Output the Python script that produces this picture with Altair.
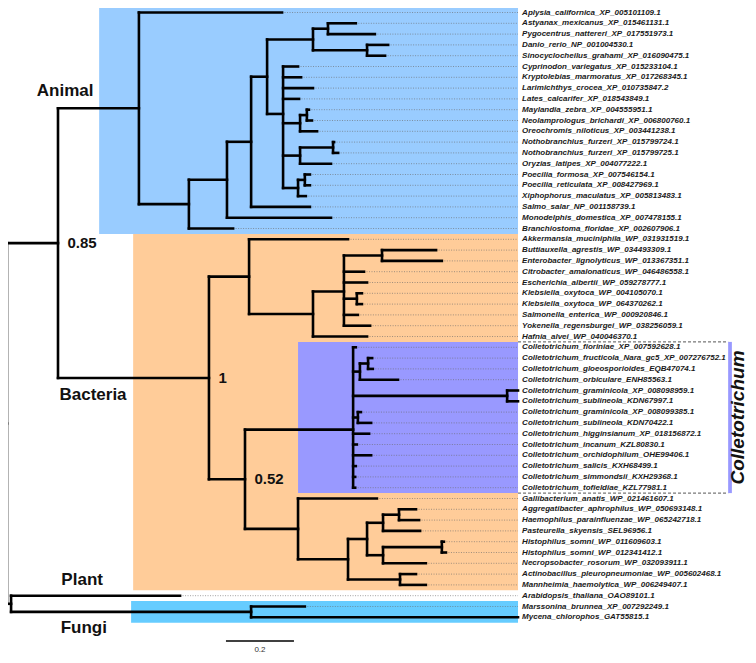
import altair as alt
import pandas as pd

# ---------------- data ----------------
leaf_names = [
    "Aplysia_californica_XP_005101109.1", "Astyanax_mexicanus_XP_015461131.1",
    "Pygocentrus_nattereri_XP_017551973.1", "Danio_rerio_NP_001004530.1",
    "Sinocyclocheilus_grahami_XP_016090475.1", "Cyprinodon_variegatus_XP_015233104.1",
    "Kryptolebias_marmoratus_XP_017268345.1", "Larimichthys_crocea_XP_010735847.2",
    "Lates_calcarifer_XP_018543849.1", "Maylandia_zebra_XP_004555951.1",
    "Neolamprologus_brichardi_XP_006800760.1", "Oreochromis_niloticus_XP_003441238.1",
    "Nothobranchius_furzeri_XP_015799724.1", "Nothobranchius_furzeri_XP_015799725.1",
    "Oryzias_latipes_XP_004077222.1", "Poecilia_formosa_XP_007546154.1",
    "Poecilia_reticulata_XP_008427969.1", "Xiphophorus_maculatus_XP_005813483.1",
    "Salmo_salar_NP_001158739.1", "Monodelphis_domestica_XP_007478155.1",
    "Branchiostoma_floridae_XP_002607906.1", "Akkermansia_muciniphila_WP_031931519.1",
    "Buttiauxella_agrestis_WP_034493309.1", "Enterobacter_lignolyticus_WP_013367351.1",
    "Citrobacter_amalonaticus_WP_046486558.1", "Escherichia_albertii_WP_059278777.1",
    "Klebsiella_oxytoca_WP_004105070.1", "Klebsiella_oxytoca_WP_064370262.1",
    "Salmonella_enterica_WP_000920846.1", "Yokenella_regensburgei_WP_038256059.1",
    "Hafnia_alvei_WP_040046370.1", "Colletotrichum_fioriniae_XP_007592628.1",
    "Colletotrichum_fructicola_Nara_gc5_XP_007276752.1", "Colletotrichum_gloeosporioides_EQB47074.1",
    "Colletotrichum_orbiculare_ENH85563.1", "Colletotrichum_graminicola_XP_008098959.1",
    "Colletotrichum_sublineola_KDN67997.1", "Colletotrichum_graminicola_XP_008099385.1",
    "Colletotrichum_sublineola_KDN70422.1", "Colletotrichum_higginsianum_XP_018156872.1",
    "Colletotrichum_incanum_KZL80830.1", "Colletotrichum_orchidophilum_OHE99406.1",
    "Colletotrichum_salicis_KXH68499.1", "Colletotrichum_simmondsii_KXH29368.1",
    "Colletotrichum_tofieldiae_KZL77981.1", "Gallibacterium_anatis_WP_021461607.1",
    "Aggregatibacter_aphrophilus_WP_050693148.1", "Haemophilus_parainfluenzae_WP_065242718.1",
    "Pasteurella_skyensis_SEL96956.1", "Histophilus_somni_WP_011609603.1",
    "Histophilus_somni_WP_012341412.1", "Necropsobacter_rosorum_WP_032093911.1",
    "Actinobacillus_pleuropneumoniae_WP_005602468.1", "Mannheimia_haemolytica_WP_006249407.1",
    "Arabidopsis_thaliana_OAO89101.1", "Marssonina_brunnea_XP_007292249.1",
    "Mycena_chlorophos_GAT55815.1",
]
leaf_parent = [
    "AN", "N5a", "N5a", "N5b", "N5b", "N6", "N6", "N6", "N6", "CI2", "CI2", "CI",
    "NO2", "NO2", "NO", "PO2", "PO2", "PO", "N3", "N2", "N1",
    "B1", "BE", "BE", "B1c", "B1c", "KL", "KL", "B1c", "B1c", "B1b",
    "COL", "C1a", "C1a", "C1", "CG", "CG", "C2", "C2", "COL", "COL", "COL", "COL", "COL", "COL",
    "PAS", "AH", "AH", "PA1", "HIS", "HIS", "PA2", "AM", "AM",
    "PF", "FUN", "FUN",
]
# distance from the root (substitutions per site)
leaf_depth = [
    0.809, 1.026, 1.082, 1.121, 1.112, 0.856, 0.865, 0.900, 0.859, 0.888, 0.897, 0.912,
    0.962, 0.974, 0.953, 0.891, 0.891, 0.879, 0.891, 0.953, 0.665,
    1.003, 1.262, 1.279, 1.050, 1.059, 1.044, 1.044, 1.032, 1.068, 1.059,
    1.026, 1.074, 1.076, 1.150, 1.503, 1.503, 1.041, 1.071, 1.065, 1.029, 1.071, 1.026, 1.024, 1.024,
    1.088, 1.203, 1.212, 1.215, 1.285, 1.291, 1.232, 1.203, 1.232,
    0.509, 0.876, 1.503,
]

node_names = ["ROOT", "AB", "PF", "AN", "N1", "N2", "N3", "N4", "N5", "N5a", "N5b", "N6",
              "CI", "CI2", "NO", "NO2", "PO", "PO2", "BAC", "B1", "B1b", "B1c", "BE", "KL",
              "B2", "COL", "C1", "C1a", "CG", "C2", "PAS", "P2", "P3", "PA1", "AH", "PA2",
              "HIS", "AM", "FUN"]
node_parent = ["", "ROOT", "ROOT", "AB", "AN", "N1", "N2", "N3", "N4", "N5", "N5", "N4",
               "N6", "CI", "N6", "NO", "N6", "PO", "AB", "BAC", "B1", "B1b", "B1c", "B1c",
               "BAC", "B2", "COL", "C1", "COL", "COL", "B2", "PAS", "P2", "P3", "PA1", "P3",
               "PA2", "P2", "PF"]
node_depth = [0.0, 0.150, 0.012, 0.388, 0.535, 0.647, 0.718, 0.765, 0.900, 0.944, 1.059, 0.812,
              0.862, 0.882, 0.862, 0.959, 0.856, 0.876, 0.594, 0.712, 0.900, 0.991, 1.103, 1.029,
              0.700, 1.018, 1.038, 1.062, 1.471, 1.032, 0.856, 1.003, 1.059, 1.106, 1.153, 1.106,
              1.279, 1.156, 0.718]
root_stem = 0.012

support_nodes = ["AB", "BAC", "B2"]
support_values = ["0.85", "1", "0.52"]

box_names = ["Animal", "Bacteria", "Colletotrichum", "Fungi"]
box_x_start = [0.271, 0.371, 0.856, 0.365]
box_row_start = [-0.5, 20.5, 30.5, 54.5]
box_row_end = [20.5, 53.5, 44.5, 56.5]
box_colors = ["#99CCFF", "#FFCC99", "#9999FF", "#66CCFF"]

group_labels = ["Animal", "Bacteria", "Plant", "Fungi"]
group_x = [0.171, 0.253, 0.221, 0.226]
group_row = [7.3, 35.4, 52.5, 57.0]

guide_end = 1.503
label_start = 1.515
bracket_end = 2.121
bracket_bar = 2.132
scale_bar_start = 0.644
scale_bar_len = 0.2
scale_bar_row = 58.2

# ---------------- layout ----------------
PX = 340.0
ROW = 10.8
TOP = 4.5
xs = alt.Scale(domain=[0, guide_end], range=[-1, -1 + guide_end * PX], nice=False, zero=False)
ys = alt.Scale(domain=[0, 56], range=[TOP, TOP + 56 * ROW], nice=False, zero=False)

parent = dict(zip(node_names, node_parent))
parent.update(zip(leaf_names, leaf_parent))
depth = dict(zip(node_names, node_depth))
depth.update(zip(leaf_names, leaf_depth))
children = {}
for n, p in parent.items():
    if p:
        children.setdefault(p, []).append(n)
ypos = {n: i for i, n in enumerate(leaf_names)}


def gety(n):
    if n not in ypos:
        ys_ = [gety(c) for c in children[n]]
        ypos[n] = sum(ys_) / len(ys_)
    return ypos[n]


gety("ROOT")

hrows = [{"x": depth[parent[n]], "x2": depth[n], "y": ypos[n]} for n in parent if parent[n]]
hrows.append({"x": -root_stem, "x2": 0.0, "y": ypos["ROOT"]})
vrows = []
for n, ch in children.items():
    cy = [ypos[c] for c in ch]
    vrows.append({"x": depth[n], "y": min(cy), "y2": max(cy)})
grows = [{"x": depth[l], "x2": guide_end, "y": ypos[l]} for l in leaf_names if depth[l] < guide_end - 0.005]

H = pd.DataFrame(hrows)
V = pd.DataFrame(vrows)
G = pd.DataFrame(grows)
L = pd.DataFrame({"name": leaf_names, "x": label_start, "y": list(range(len(leaf_names)))})
B = pd.DataFrame({"name": box_names, "x": box_x_start, "x2": guide_end,
                  "y": box_row_start, "y2": box_row_end, "c": box_colors})
S = pd.DataFrame({"t": support_values, "x": [depth[n] + 0.028 for n in support_nodes],
                  "y": [ypos[n] for n in support_nodes]})
GL = pd.DataFrame({"t": group_labels, "x": group_x, "y": group_row})
ci = box_names.index("Colletotrichum")
BR = pd.DataFrame({"x": [guide_end, guide_end], "x2": [bracket_end, bracket_end],
                   "y": [box_row_start[ci], box_row_end[ci]]})
BAR = pd.DataFrame({"x": [bracket_end], "x2": [bracket_bar],
                    "y": [box_row_start[ci]], "y2": [box_row_end[ci]]})
CT = pd.DataFrame({"t": ["Colletotrichum"], "x": [2.150],
                   "y": [(box_row_start[ci] + box_row_end[ci]) / 2]})
SB = pd.DataFrame({"x": [scale_bar_start], "x2": [scale_bar_start + scale_bar_len],
                   "y": [scale_bar_row], "t": [str(scale_bar_len)]})

X = lambda: alt.X("x:Q", scale=xs, axis=None)
Y = lambda: alt.Y("y:Q", scale=ys, axis=None)

boxes = alt.Chart(B).mark_rect().encode(X(), x2="x2:Q", y=Y(), y2="y2:Q",
                                        color=alt.Color("c:N", scale=None))
guides = alt.Chart(G).mark_rule(color="#6b6b6b", strokeWidth=0.8, strokeDash=[1, 1.5],
                                opacity=0.8).encode(X(), x2="x2:Q", y=Y())
hlines = alt.Chart(H).mark_rule(color="black", strokeWidth=2.6, strokeCap="square").encode(
    X(), x2="x2:Q", y=Y())
vlines = alt.Chart(V).mark_rule(color="black", strokeWidth=2.6, strokeCap="square").encode(
    X(), y=Y(), y2="y2:Q")
labels = alt.Chart(L).mark_text(align="left", baseline="middle", font="Liberation Sans",
                                fontSize=8, fontStyle="italic", fontWeight="bold",
                                color="#1a1a1a").encode(X(), Y(), text="name:N")
support = alt.Chart(S).mark_text(align="left", baseline="middle", font="Liberation Sans",
                                 fontSize=15, fontWeight="bold", color="#111").encode(
    X(), Y(), text="t:N")
groups = alt.Chart(GL).mark_text(align="center", baseline="middle", font="Liberation Sans",
                                 fontSize=17, fontWeight="bold", color="#111").encode(
    X(), Y(), text="t:N")
bracket = alt.Chart(BR).mark_rule(color="#555", strokeWidth=1, strokeDash=[3, 2]).encode(
    X(), x2="x2:Q", y=Y())
bar = alt.Chart(BAR).mark_rect(color="#9999FF").encode(X(), x2="x2:Q", y=Y(), y2="y2:Q")
ctext = alt.Chart(CT).mark_text(align="center", baseline="middle", angle=270,
                                font="Liberation Sans", fontSize=19, fontWeight="bold",
                                fontStyle="italic", color="#111").encode(X(), Y(), text="t:N")
sbar = alt.Chart(SB).mark_rule(color="black", strokeWidth=1.5).encode(X(), x2="x2:Q", y=Y())
stext = alt.Chart(SB).mark_text(align="center", baseline="middle", font="Liberation Sans",
                                fontSize=8, color="#333", dy=9).encode(
    x=alt.X("mid:Q", scale=xs, axis=None), y=Y(), text="t:N").transform_calculate(
    mid="(datum.x + datum.x2) / 2")

chart = alt.layer(boxes, guides, bracket, bar, hlines, vlines, labels, support, groups,
                  ctext, sbar, stext).properties(
    width=740, height=647, padding=0, autosize="none").configure_view(stroke=None)

chart.save("out.html", embed_options={"renderer": "svg", "actions": False})
